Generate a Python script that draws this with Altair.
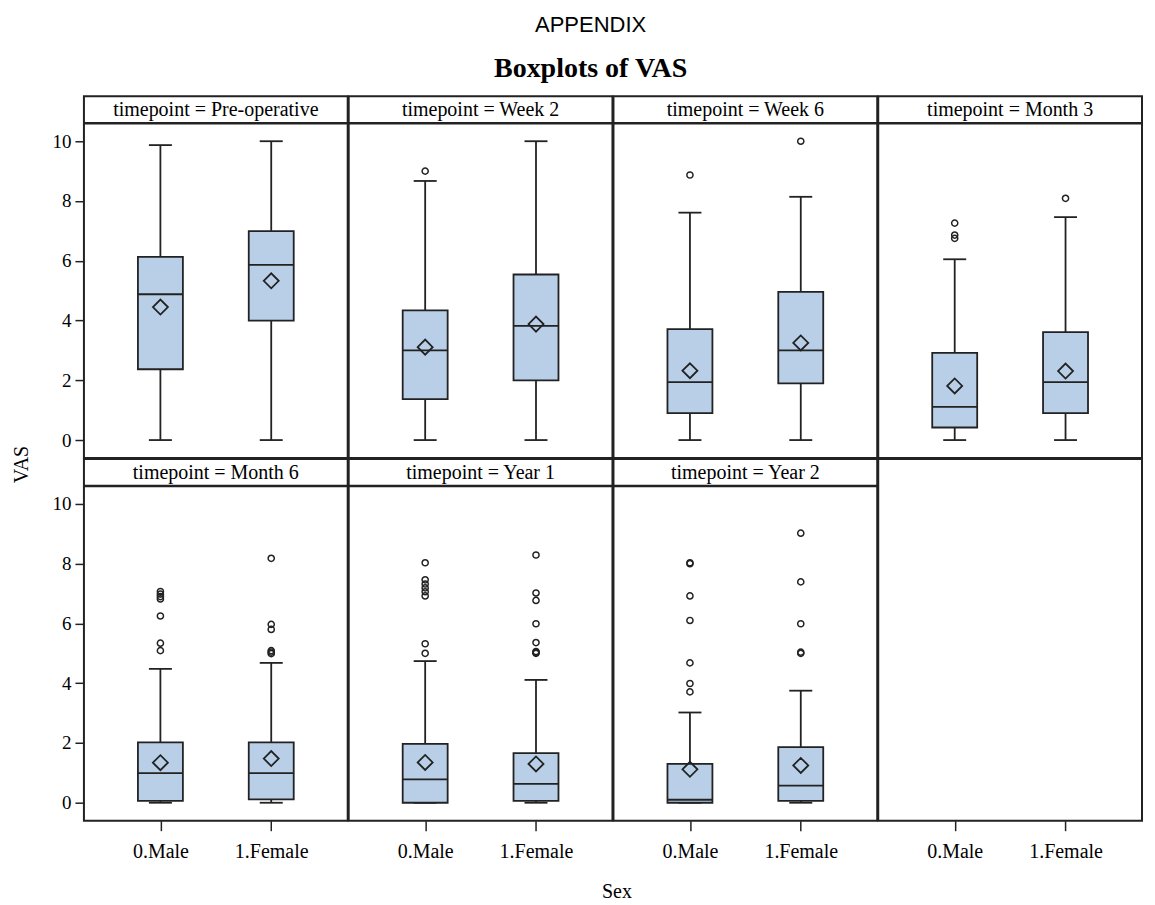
import altair as alt
import pandas as pd

# ---------------- data ----------------
timepoints = ["Pre-operative", "Week 2", "Week 6", "Month 3", "Month 6", "Year 1", "Year 2"]
sexes = ["0.Male", "1.Female"]

whisker_low_male = [0.0, 0.0, 0.0, 0.0, 0.0, 0.0, 0.0]
whisker_low_female = [0.0, 0.0, 0.0, 0.0, 0.0, 0.0, 0.0]
q1_male = [2.37, 1.37, 0.90, 0.42, 0.06, 0.00, 0.00]
q1_female = [4.00, 2.00, 1.90, 0.90, 0.11, 0.06, 0.06]
median_male = [4.88, 3.00, 1.94, 1.11, 0.99, 0.78, 0.10]
median_female = [5.86, 3.82, 3.00, 1.94, 0.99, 0.63, 0.57]
q3_male = [6.13, 4.34, 3.71, 2.92, 2.02, 1.97, 1.30]
q3_female = [6.99, 5.54, 4.96, 3.61, 2.02, 1.66, 1.86]
mean_male = [4.45, 3.11, 2.32, 1.81, 1.34, 1.35, 1.12]
mean_female = [5.33, 3.88, 3.25, 2.31, 1.48, 1.30, 1.25]
whisker_high_male = [9.87, 8.67, 7.61, 6.05, 4.48, 4.74, 3.02]
whisker_high_female = [10.0, 10.0, 8.14, 7.46, 4.68, 4.11, 3.75]
outliers_male = [
    [],
    [9.0],
    [8.87],
    [7.26, 6.86, 6.75],
    [7.07, 6.98, 6.90, 6.82, 6.25, 5.34, 5.09],
    [8.03, 7.46, 7.32, 7.19, 7.06, 6.92, 5.32, 5.00],
    [8.03, 8.00, 6.92, 6.10, 4.68, 3.99, 3.71],
]
outliers_female = [
    [],
    [],
    [10.0],
    [8.09],
    [8.18, 5.97, 5.80, 5.09, 5.04, 4.99],
    [8.29, 7.02, 6.77, 5.99, 5.36, 5.06, 5.03, 5.00],
    [9.02, 7.39, 5.99, 5.04, 5.00],
]
y_ticks = [0, 2, 4, 6, 8, 10]

# ---------------- layout constants ----------------
W = 264          # panel width
HH = 27          # header strip height
HP = 335         # plot height
HT = HH + HP     # total panel height
SERIF = "Liberation Serif"
INK = "#222222"
BOX_FILL = "#B9CFE8"
LW = 1.8

xscale = alt.Scale(type="point", domain=sexes, padding=0.69)
yscale = alt.Scale(domain=[-0.6, 10.6], range=[HT, HH], nice=False, zero=False)


def make_x(show_x, title=None):
    if show_x:
        kw = dict(labelFont=SERIF, labelFontSize=20, labelColor="black", labelAngle=0,
                  ticks=True, tickSize=10, tickColor=INK, tickWidth=1.5,
                  labelPadding=11, domain=False, grid=False)
        if title:
            ax = alt.Axis(title=title, titleFont=SERIF, titleFontSize=20,
                          titleFontWeight="normal", titleColor="black",
                          titleX=W + 4, titleY=71, titleBaseline="middle", **kw)
        else:
            ax = alt.Axis(title=None, **kw)
    else:
        ax = None
    return alt.X("Sex:N", scale=xscale, axis=ax)


def y_axis(show_y):
    if not show_y:
        return None
    return alt.Axis(values=y_ticks, title="VAS" if show_y == "title" else None,
                    labelFont=SERIF, labelFontSize=19, labelColor="black",
                    tickSize=9, tickColor=INK, tickWidth=1.5, labelPadding=4,
                    domain=False, grid=False,
                    titleFont=SERIF, titleFontSize=20, titleFontWeight="normal",
                    titleColor="black", titleAngle=270, titleX=-62, titleY=368,
                    titleBaseline="middle")


def panel(i, show_y, show_x, x_title=None):
    stats = pd.DataFrame({
        "Sex": sexes,
        "low": [whisker_low_male[i], whisker_low_female[i]],
        "q1": [q1_male[i], q1_female[i]],
        "median": [median_male[i], median_female[i]],
        "q3": [q3_male[i], q3_female[i]],
        "mean": [mean_male[i], mean_female[i]],
        "high": [whisker_high_male[i], whisker_high_female[i]],
    })
    out = pd.DataFrame({
        "Sex": [sexes[0]] * len(outliers_male[i]) + [sexes[1]] * len(outliers_female[i]),
        "value": outliers_male[i] + outliers_female[i],
    })
    x = make_x(show_x, x_title)
    yax = y_axis(show_y)

    def Y(f):
        return alt.Y(f"{f}:Q", scale=yscale, axis=yax)

    base = alt.Chart(stats)
    whisk = base.mark_rule(color=INK, strokeWidth=LW, opacity=1).encode(
        x=x, y=Y("low"), y2="high:Q")
    cap_lo = base.mark_tick(color=INK, size=23, thickness=LW, opacity=1).encode(x=x, y=Y("low"))
    cap_hi = base.mark_tick(color=INK, size=23, thickness=LW, opacity=1).encode(x=x, y=Y("high"))
    box = base.mark_bar(size=45, fill=BOX_FILL, stroke=INK, strokeWidth=LW, opacity=1).encode(
        x=x, y=Y("q1"), y2="q3:Q")
    med = base.mark_tick(color=INK, size=45, thickness=LW, opacity=1).encode(x=x, y=Y("median"))
    mean = base.mark_point(shape="diamond", size=225, filled=False, color=INK,
                           strokeWidth=LW, opacity=1).encode(x=x, y=Y("mean"))
    layers = [whisk, cap_lo, cap_hi, box, med, mean]
    if len(out):
        pts = alt.Chart(out).mark_point(shape="circle", size=38, filled=False, color=INK,
                                        strokeWidth=1.5, opacity=1).encode(x=x, y=Y("value"))
        layers.append(pts)
    hdr = alt.Data(values=[{"label": f"timepoint = {timepoints[i]}"}])
    hrule = alt.Chart(hdr).mark_rule(color=INK, strokeWidth=2.5).encode(
        x=alt.value(0), x2=alt.value(W), y=alt.value(HH))
    htext = alt.Chart(hdr).mark_text(font=SERIF, fontSize=20, color="black",
                                     baseline="middle", align="center").encode(
        x=alt.value(W / 2), y=alt.value(14), text="label:N")
    layers += [hrule, htext]
    return alt.layer(*layers).properties(width=W, height=HT)


def empty_panel():
    d = pd.DataFrame({"Sex": sexes})
    return alt.Chart(d).mark_point(opacity=0).encode(x=make_x(True)).properties(width=W, height=HT)


panels = [
    panel(0, "title", False),
    panel(1, False, False),
    panel(2, False, False),
    panel(3, False, False),
    panel(4, True, True),
    panel(5, False, True, x_title="Sex"),
    panel(6, False, True),
    empty_panel(),
]

chart = alt.concat(*panels, columns=4, spacing=1, bounds="flush").properties(
    title=alt.TitleParams(
        text="APPENDIX", subtitle="Boxplots of VAS",
        font="Liberation Sans", fontSize=22, fontWeight="normal", color="black",
        subtitleFont=SERIF, subtitleFontSize=28, subtitleFontWeight="bold",
        subtitleColor="black", subtitlePadding=18,
        anchor="middle", frame="bounds", dx=13, offset=11),
    padding={"left": 3, "top": 6, "right": 2, "bottom": 5},
    background="white",
).configure_view(stroke=INK, strokeWidth=2)

chart.save("out.html", embed_options={"renderer": "svg", "actions": False})
